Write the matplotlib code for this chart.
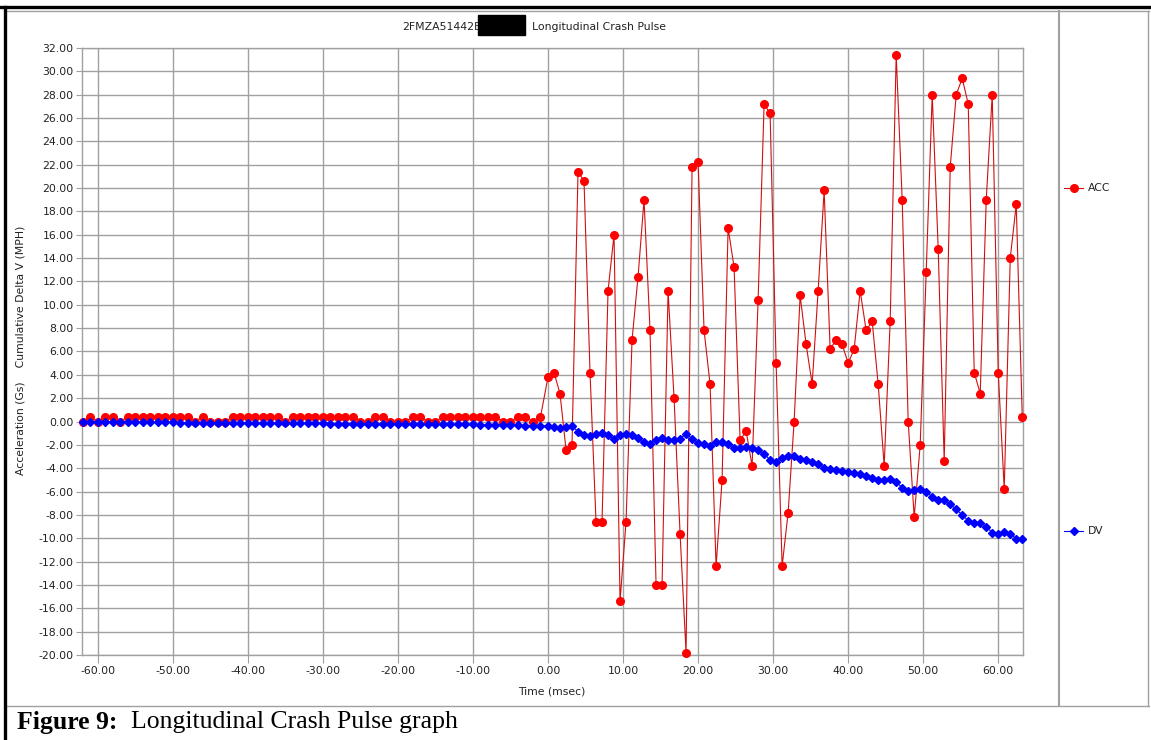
import numpy as np
import matplotlib
matplotlib.use("Agg")
import matplotlib.pyplot as plt
from matplotlib.lines import Line2D
from matplotlib.patches import Rectangle

# sample times (msec): pre-crash buffer at 1 ms, crash buffer at 0.8 ms
time_pre = np.arange(-62, 0, 1.0)
time_post = np.round(np.arange(80) * 0.8, 1)

acc_pre = [0.0, 0.4, 0.0, 0.4, 0.4, 0.0,
           0.4, 0.4, 0.4, 0.4, 0.4, 0.4, 0.4, 0.4, 0.4,
           0.0, 0.4, 0.0, 0.0, 0.0,
           0.4, 0.4, 0.4, 0.4, 0.4, 0.4, 0.4,
           0.0,
           0.4, 0.4, 0.4, 0.4, 0.4, 0.4, 0.4, 0.4, 0.4,
           0.0, 0.0, 0.4, 0.4, 0.0, 0.0, 0.0, 0.4, 0.4, 0.0, 0.0,
           0.4, 0.4, 0.4, 0.4, 0.4, 0.4, 0.4, 0.4,
           0.0, 0.0, 0.4, 0.4, 0.0, 0.4]

acc_post = [3.8, 4.2, 2.4, -2.4, -2.0, 21.4, 20.6, 4.2, -8.6, -8.6,
            11.2, 16.0, -15.4, -8.6, 7.0, 12.4, 19.0, 7.8, -14.0, -14.0,
            11.2, 2.0, -9.6, -19.8, 21.8, 22.2, 7.8, 3.2, -12.4, -5.0,
            16.6, 13.2, -1.6, -0.8, -3.8, 10.4, 27.2, 26.4, 5.0, -12.4,
            -7.8, 0.0, 10.8, 6.6, 3.2, 11.2, 19.8, 6.2, 7.0, 6.6,
            5.0, 6.2, 11.2, 7.8, 8.6, 3.2, -3.8, 8.6, 31.4, 19.0,
            0.0, -8.2, -2.0, 12.8, 28.0, 14.8, -3.4, 21.8, 28.0, 29.4,
            27.2, 4.2, 2.4, 19.0, 28.0, 4.2, -5.8, 14.0, 18.6, 0.4]

dv_pre = [0.0, 0.0, 0.0, 0.0, 0.0,
          -0.05, -0.05, -0.05, -0.05, -0.05, -0.05, -0.05, -0.05,
          -0.1, -0.1, -0.1, -0.1, -0.1, -0.1, -0.1, -0.1, -0.1, -0.1,
          -0.15, -0.15, -0.15, -0.15, -0.15, -0.15, -0.15, -0.15, -0.15, -0.15,
          -0.2, -0.2, -0.2, -0.2, -0.2, -0.2, -0.2, -0.2, -0.2, -0.2,
          -0.25, -0.25, -0.25, -0.25, -0.25, -0.25, -0.25, -0.25, -0.25, -0.25,
          -0.3, -0.3, -0.3, -0.3, -0.3, -0.3,
          -0.35, -0.35, -0.35]

dv_post = [-0.38, -0.44, -0.53, -0.44, -0.38, -0.87, -1.15, -1.24, -1.10, -0.95,
           -1.15, -1.47, -1.15, -1.04, -1.18, -1.38, -1.72, -1.90, -1.58, -1.38,
           -1.58, -1.58, -1.47, -1.04, -1.47, -1.81, -1.90, -2.10, -1.75, -1.72,
           -1.90, -2.24, -2.29, -2.18, -2.29, -2.44, -2.75, -3.29, -3.44, -3.16,
           -2.95, -2.95, -3.18, -3.29, -3.47, -3.61, -3.95, -4.04, -4.15, -4.23,
           -4.32, -4.38, -4.52, -4.66, -4.86, -4.98, -5.00, -4.89, -5.18, -5.66,
           -5.95, -5.86, -5.80, -6.00, -6.46, -6.72, -6.72, -7.09, -7.52, -8.00,
           -8.50, -8.72, -8.66, -9.00, -9.52, -9.66, -9.46, -9.66, -10.03, -10.10]

time = np.concatenate([time_pre, time_post])
acc = np.array(acc_pre + acc_post)
dv = np.array(dv_pre + dv_post)

x_ticks = [-60, -50, -40, -30, -20, -10, 0, 10, 20, 30, 40, 50, 60]
y_ticks = list(range(-20, 33, 2))

W, H = 1151, 740
SANS = "DejaVu Sans"
FS = 7.8


def fx(px):
    return px / W


def fy(py):
    return 1 - py / H


fig = plt.figure(figsize=(W / 100, H / 100), dpi=100)
fig.patch.set_facecolor("white")

ax = fig.add_axes([fx(82), fy(655), fx(1023) - fx(82), fy(48) - fy(655)])
ax.plot(time, acc, color="#d01010", lw=0.8, marker="o", ms=5.5,
        mfc="#ff0000", mec="#ff0000", clip_on=False, zorder=3)
ax.plot(time, dv, color="#0000ff", lw=0.8, marker="D", ms=3.6,
        mfc="#0000ff", mec="#0000ff", clip_on=False, zorder=4)

ax.set_xlim(-62.1, 63.3)
ax.set_ylim(-20, 32)
ax.set_xticks(x_ticks)
ax.set_yticks(y_ticks)
ax.set_xticklabels(["%.2f" % v for v in x_ticks], fontsize=FS, family=SANS)
ax.set_yticklabels(["%.2f" % v for v in y_ticks], fontsize=FS, family=SANS)
ax.grid(True, color="#a0a0a0", lw=1.0)
ax.set_axisbelow(True)
for s in ax.spines.values():
    s.set_color("#a0a0a0")
    s.set_linewidth(1.0)
ax.tick_params(axis="x", length=6, color="#a0a0a0", pad=2, labelcolor="#222222")
ax.tick_params(axis="y", length=4, color="#a0a0a0", pad=2, labelcolor="#222222")

# axis titles
fig.text(fx(552), fy(691), "Time (msec)", ha="center", va="center",
         fontsize=FS, family=SANS, color="#222222")
fig.text(fx(21), fy(350), "Acceleration (Gs)    Cumulative Delta V (MPH)",
         ha="center", va="center", rotation=90, fontsize=FS, family=SANS,
         color="#222222")

# chart title with redacted part of the VIN
fig.text(fx(481), fy(27), "2FMZA51442E", ha="right", va="center",
         fontsize=FS, family=SANS, color="#222222")
fig.text(fx(532), fy(27), "Longitudinal Crash Pulse", ha="left",
         va="center", fontsize=FS, family=SANS, color="#222222")
fig.add_artist(Rectangle((fx(478), fy(35)), fx(525) - fx(478), fy(15) - fy(35),
                         transform=fig.transFigure, color="black", zorder=5))

# legend panel
fig.add_artist(Line2D([fx(1064), fx(1083)], [fy(188), fy(188)],
                      transform=fig.transFigure, color="#d01010", lw=0.8))
fig.add_artist(Line2D([fx(1073.5)], [fy(188)], transform=fig.transFigure,
                      marker="o", ms=5.5, color="#ff0000", ls="none"))
fig.text(fx(1088), fy(188), "ACC", ha="left", va="center", fontsize=FS,
         family=SANS, color="#222222")
fig.add_artist(Line2D([fx(1064), fx(1083)], [fy(531), fy(531)],
                      transform=fig.transFigure, color="#0000ff", lw=0.8))
fig.add_artist(Line2D([fx(1073.5)], [fy(531)], transform=fig.transFigure,
                      marker="D", ms=3.6, color="#0000ff", ls="none"))
fig.text(fx(1088), fy(531), "DV", ha="left", va="center", fontsize=FS,
         family=SANS, color="#222222")

# frames
gray = "#a0a0a0"
fig.add_artist(Line2D([fx(7), fx(1149)], [fy(11), fy(11)], transform=fig.transFigure, color=gray, lw=1))
fig.add_artist(Line2D([fx(7), fx(1149)], [fy(706), fy(706)], transform=fig.transFigure, color=gray, lw=1))
fig.add_artist(Line2D([fx(1059), fx(1059)], [fy(11), fy(706)], transform=fig.transFigure, color=gray, lw=1.5))
fig.add_artist(Line2D([fx(1148), fx(1148)], [fy(11), fy(706)], transform=fig.transFigure, color=gray, lw=1))
fig.add_artist(Line2D([0, 1], [fy(6.5), fy(6.5)], transform=fig.transFigure, color="black", lw=2.4))
fig.add_artist(Line2D([fx(5), fx(5)], [0, fy(6.5)], transform=fig.transFigure, color="black", lw=2.4))

# caption
fig.text(fx(17), fy(722), "Figure 9:", ha="left", va="center", fontsize=18.5,
         family="Liberation Serif", weight="bold")
fig.text(fx(131), fy(722), "Longitudinal Crash Pulse graph", ha="left", va="center",
         fontsize=18.5, family="Liberation Serif")

fig.savefig("out.png", dpi=100, facecolor="white")
